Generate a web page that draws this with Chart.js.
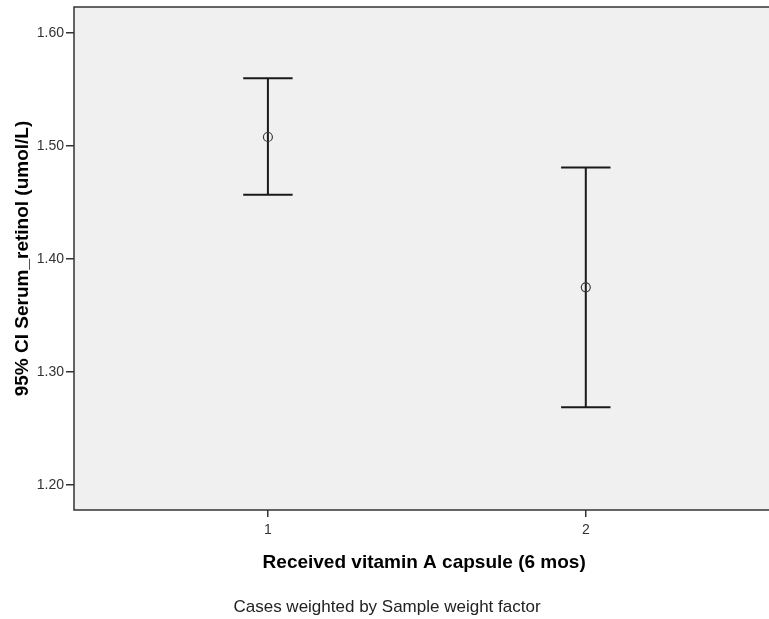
<!DOCTYPE html>
<html>
<head>
<meta charset="utf-8">
<script src="https://cdn.jsdelivr.net/npm/chart.js@4/dist/chart.umd.min.js"></script>
<style>
  html, body { margin: 0; padding: 0; background: #ffffff; overflow: hidden; }
  canvas { display: block; }
</style>
</head>
<body>
<canvas id="c" width="780" height="619"></canvas>
<script>
// ---- data ----
const categories = [1, 2];
const means = [1.508, 1.375];
const upperCI = [1.560, 1.481];
const lowerCI = [1.457, 1.269];
const yTickValues = [1.20, 1.30, 1.40, 1.50, 1.60];
const yTitle = '95% CI Serum_retinol (umol/L)';
const xTitle = 'Received vitamin A capsule (6 mos)';
const footnote = 'Cases weighted by Sample weight factor';

const FONT = "'Liberation Sans', Arial, sans-serif";

const framePlugin = {
  id: 'frame',
  beforeDraw(chart) {
    const { ctx, chartArea: a } = chart;
    ctx.save();
    ctx.fillStyle = '#f0f0f0';
    ctx.fillRect(a.left, a.top, a.right - a.left + 20, a.bottom - a.top);
    ctx.restore();
  },
  afterDraw(chart) {
    const { ctx, chartArea: a } = chart;
    ctx.save();
    ctx.strokeStyle = '#333333';
    ctx.lineWidth = 1.5;
    ctx.strokeRect(a.left, a.top, a.right - a.left + 20, a.bottom - a.top);
    ctx.fillStyle = '#222222';
    ctx.font = "17px " + FONT;
    ctx.textAlign = 'center';
    ctx.textBaseline = 'middle';
    ctx.fillText(footnote, 387, 607);
    ctx.restore();
  }
};

const errorBarPlugin = {
  id: 'errorBars',
  beforeDatasetsDraw(chart) {
    const { ctx, scales: { x, y } } = chart;
    ctx.save();
    ctx.strokeStyle = '#1a1a1a';
    ctx.lineWidth = 2;
    const cap = 24.7;
    categories.forEach((c, i) => {
      const px = x.getPixelForValue(c);
      const pu = y.getPixelForValue(upperCI[i]);
      const pl = y.getPixelForValue(lowerCI[i]);
      ctx.beginPath();
      ctx.moveTo(px, pu); ctx.lineTo(px, pl);
      ctx.moveTo(px - cap, pu); ctx.lineTo(px + cap, pu);
      ctx.moveTo(px - cap, pl); ctx.lineTo(px + cap, pl);
      ctx.stroke();
    });
    ctx.restore();
  }
};

new Chart(document.getElementById('c'), {
  type: 'scatter',
  data: {
    datasets: [{
      data: categories.map((c, i) => ({ x: c, y: means[i] })),
      pointRadius: 4.5,
      pointHoverRadius: 4.5,
      borderColor: '#3a3a3a',
      backgroundColor: 'rgba(0,0,0,0)',
      borderWidth: 1.2
    }]
  },
  options: {
    responsive: false,
    animation: false,
    devicePixelRatio: 1,
    layout: { padding: { top: 7, left: 0, right: 0, bottom: 0 } },
    plugins: { legend: { display: false }, tooltip: { enabled: false } },
    scales: {
      x: {
        type: 'linear',
        min: 0.39, max: 2.593,
        afterFit(s) { s.height = 109; s.paddingLeft = 0; s.paddingRight = 0; },
        afterBuildTicks(s) { s.ticks = categories.map(v => ({ value: v })); },
        border: { display: false },
        grid: { drawOnChartArea: false, drawTicks: true, tickLength: 7, color: '#333333', lineWidth: 1.5 },
        ticks: { color: '#333333', font: { family: FONT, size: 14 }, padding: 5, callback: v => String(v) },
        title: { display: true, text: xTitle, color: '#000000', font: { family: FONT, size: 19, weight: 'bold' }, padding: { top: 0, bottom: 45 } }
      },
      y: {
        type: 'linear',
        min: 1.178, max: 1.623,
        afterFit(s) { s.width = 74; s.paddingTop = 0; s.paddingBottom = 0; },
        afterBuildTicks(s) { s.ticks = yTickValues.map(v => ({ value: v })); },
        border: { display: false },
        grid: { drawOnChartArea: false, drawTicks: true, tickLength: 8, color: '#333333', lineWidth: 1.5 },
        ticks: { color: '#333333', font: { family: FONT, size: 14 }, padding: 2, callback: v => Number(v).toFixed(2) },
        title: { display: true, text: yTitle, color: '#000000', font: { family: FONT, size: 19, weight: 'bold' }, padding: { top: 11, bottom: 0 } }
      }
    }
  },
  plugins: [framePlugin, errorBarPlugin]
});
</script>
</body>
</html>
